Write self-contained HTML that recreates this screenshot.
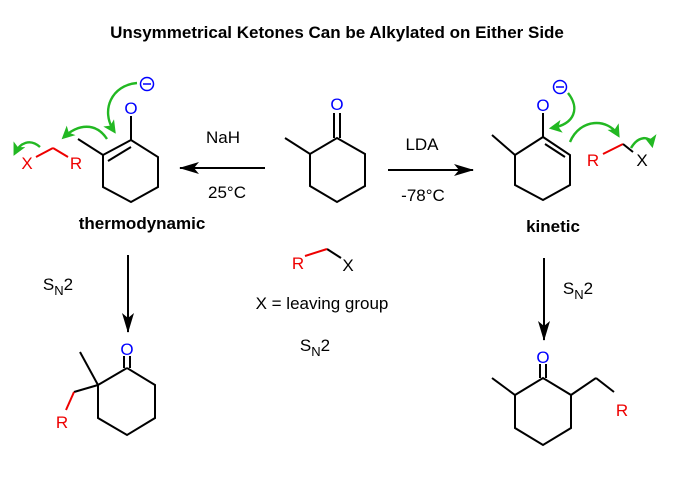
<!DOCTYPE html>
<html><head><meta charset="utf-8"><style>
html,body{margin:0;padding:0;background:#fff;}
svg{display:block;font-family:"Liberation Sans",Arial,sans-serif;}
</style></head><body>
<svg width="674" height="480" viewBox="0 0 674 480" xmlns="http://www.w3.org/2000/svg">
<defs>
<marker id="ah" viewBox="0 0 20 12" refX="19" refY="6" markerWidth="20" markerHeight="12" orient="auto" markerUnits="userSpaceOnUse"><path d="M0,0 L20,6 L0,12 L5,6 z" fill="#000"/></marker>
<marker id="ga" viewBox="0 0 12 12" refX="9" refY="6" markerWidth="13" markerHeight="13" orient="auto" markerUnits="userSpaceOnUse"><path d="M0,0 L12,6 L0,12 L3,6 z" fill="#22b822"/></marker>
</defs>
<text x="337" y="38" text-anchor="middle" font-size="17" font-weight="bold">Unsymmetrical Ketones Can be Alkylated on Either Side</text>

<g stroke="#000" stroke-width="2" fill="none">
<polyline points="285,138 310,154 337,138 365,154 365,186 337,202 310,186 310,154"/>
<line x1="334" y1="138" x2="334" y2="113"/><line x1="340" y1="138" x2="340" y2="113"/>
<polyline points="78,139 103,155 131,140 158,157 158,187 131,202 103,187 103,155"/>
<line x1="108" y1="161" x2="131" y2="147"/>
<line x1="131" y1="140" x2="131" y2="116"/>
<polyline points="492,135 515,155 543,137 570,155 570,185 543,200 515,185 515,155"/>
<line x1="545" y1="144" x2="565" y2="157"/>
<line x1="543" y1="137" x2="543" y2="113"/>
<polyline points="127,368 155,385 155,418 127,435 98,418 98,385 127,368"/>
<line x1="124" y1="368" x2="124" y2="356"/><line x1="130" y1="368" x2="130" y2="356"/>
<line x1="98" y1="385" x2="80" y2="352"/>
<line x1="98" y1="385" x2="74" y2="392"/>
<polyline points="492,378 515,395 543,378 571,395 571,428 543,445 515,428 515,395"/>
<line x1="540" y1="378" x2="540" y2="364"/><line x1="546" y1="378" x2="546" y2="364"/>
<line x1="571" y1="395" x2="596" y2="378"/>
<line x1="596" y1="378" x2="614" y2="392"/>
<line x1="327" y1="249" x2="341" y2="258"/>
</g>
<g stroke="#e00" stroke-width="2" fill="none">
<line x1="74" y1="392" x2="66" y2="410"/>
<line x1="36" y1="157" x2="53" y2="148"/><line x1="53" y1="148" x2="68" y2="157"/>
<line x1="603" y1="154" x2="623" y2="144"/>
<line x1="305" y1="256" x2="327" y2="249"/>
</g>
<line x1="623" y1="144" x2="633" y2="152" stroke="#000" stroke-width="2"/>

<g stroke="#000" stroke-width="2">
<line x1="265" y1="168" x2="180" y2="168" marker-end="url(#ah)"/>
<line x1="388" y1="170" x2="473" y2="170" marker-end="url(#ah)"/>
<line x1="128" y1="255" x2="128" y2="332" marker-end="url(#ah)"/>
<line x1="544" y1="258" x2="544" y2="340" marker-end="url(#ah)"/>
</g>

<g stroke="#22b822" stroke-width="2.4" fill="none">
<path d="M137,83 C112,85 100,110 114,131" marker-end="url(#ga)"/>
<path d="M107,139 C96,122 78,124 64,137" marker-end="url(#ga)"/>
<path d="M40,147 C30,138 20,143 15,153" marker-end="url(#ga)"/>
<path d="M568,93 C580,108 575,124 552,128" marker-end="url(#ga)"/>
<path d="M570,142 C580,118 608,118 618,135" marker-end="url(#ga)"/>
<path d="M631,148 C638,136 650,135 652,145" marker-end="url(#ga)"/>
</g>

<g stroke="#00f" stroke-width="1.5" fill="none">
<circle cx="147" cy="84" r="6.5"/><line x1="143" y1="84" x2="151" y2="84"/>
<circle cx="560" cy="87" r="6.5"/><line x1="556" y1="87" x2="564" y2="87"/>
</g>

<g font-size="17" text-anchor="middle">
<text x="337" y="110" fill="#00f">O</text>
<text x="131" y="114" fill="#00f">O</text>
<text x="543" y="111" fill="#00f">O</text>
<text x="127" y="355" fill="#00f">O</text>
<text x="543" y="363" fill="#00f">O</text>
<text x="27" y="169" fill="#e00">X</text>
<text x="76" y="169" fill="#e00">R</text>
<text x="593" y="166" fill="#e00">R</text>
<text x="642" y="166" fill="#000">X</text>
<text x="298" y="269" fill="#e00">R</text>
<text x="348" y="271" fill="#000">X</text>
<text x="62" y="428" fill="#e00">R</text>
<text x="622" y="416" fill="#e00">R</text>
<text x="223" y="143">NaH</text>
<text x="227" y="198">25°C</text>
<text x="422" y="150">LDA</text>
<text x="423" y="201">-78°C</text>
<text x="322" y="309">X = leaving group</text>
<text x="315" y="351">S<tspan font-size="13" dy="5">N</tspan><tspan dy="-5">2</tspan></text>
<text x="58" y="290">S<tspan font-size="13" dy="5">N</tspan><tspan dy="-5">2</tspan></text>
<text x="578" y="294">S<tspan font-size="13" dy="5">N</tspan><tspan dy="-5">2</tspan></text>
<text x="142" y="229" font-weight="bold">thermodynamic</text>
<text x="553" y="232" font-weight="bold">kinetic</text>
</g>
</svg>
</body></html>
